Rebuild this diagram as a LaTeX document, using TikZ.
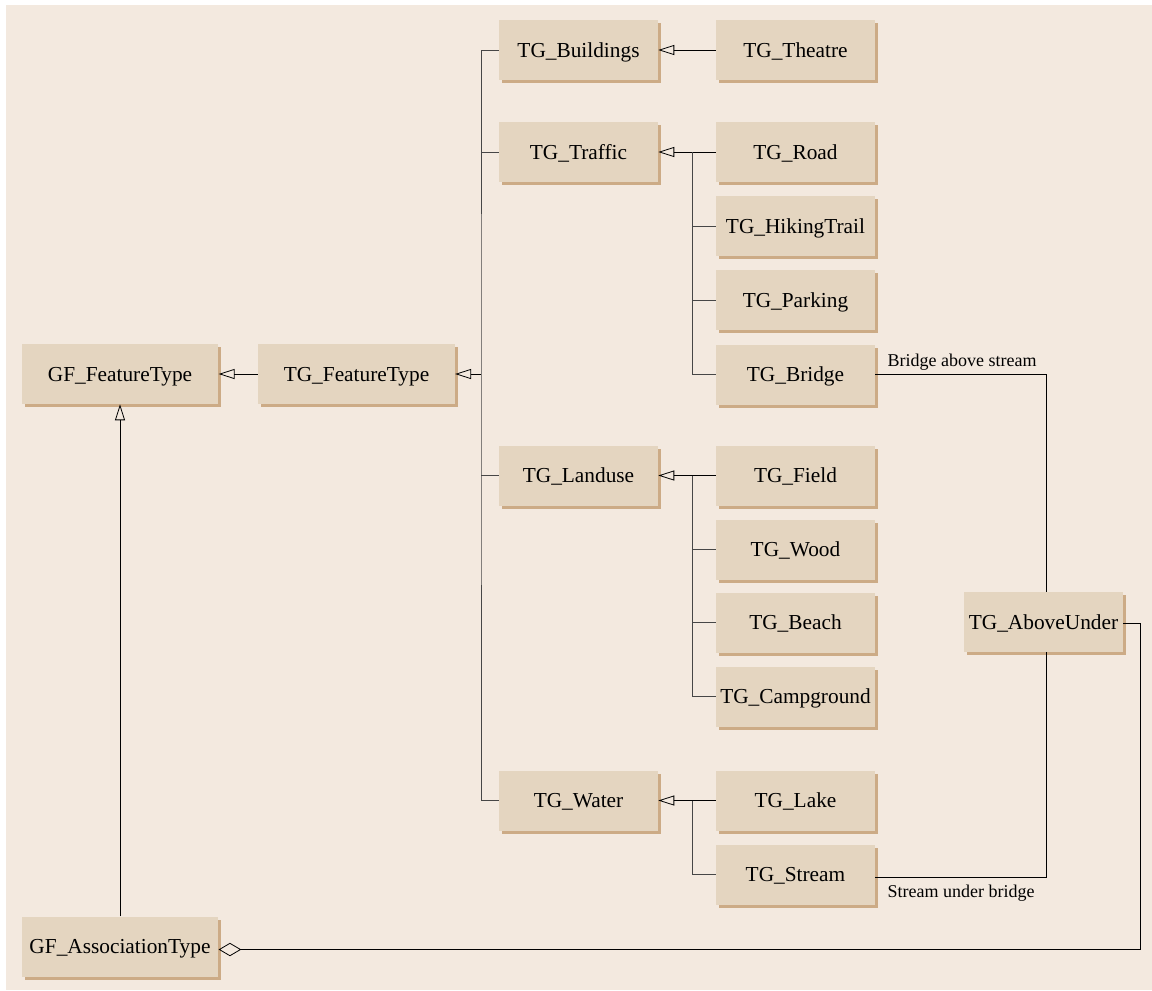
\documentclass[tikz,border=0pt]{standalone}
\usepackage{fontspec}
\setmainfont{Liberation Serif}
\usetikzlibrary{arrows.meta,shadows}

\definecolor{paper}{RGB}{243,233,223}
\definecolor{boxfill}{RGB}{228,213,192}
\definecolor{boxshade}{RGB}{204,171,134}
\definecolor{wire}{RGB}{70,70,70}

\tikzset{
  cls/.style={draw=none, fill=boxfill, inner sep=2pt,
    minimum width=119.25pt, minimum height=45pt,
    text height=12pt, text depth=0.8pt,
    font=\fontsize{16}{19}\selectfont,
    drop shadow={shadow xshift=2.25pt, shadow yshift=-2.25pt, opacity=1, fill=boxshade}},
  wide/.style={cls, minimum width=147.5pt},
  wire/.style={draw=wire, line width=0.75pt},
  gen/.style={draw=black, line width=0.6pt,
    -{Triangle[open, length=12pt, width=7.5pt, line width=0.6pt]}},
  agg/.style={draw=black, line width=0.6pt,
    -{Diamond[open, length=17pt, width=10pt, line width=0.6pt]}},
  role/.style={font=\fontsize{13.5}{16}\selectfont, inner sep=1pt}
}

\begin{document}
\begin{tikzpicture}[x=0.75pt, y=-0.75pt]
  % page and paper background
  \fill[white] (0,0) rectangle (1152,990);
  \fill[paper] (6,5) rectangle (1152,990);
  \useasboundingbox (0,0) rectangle (1152,990);

  % root classes
  \node[wide] (GFF) at (120,374) {GF\_FeatureType};
  \node[wide] (TGF) at (356.5,374) {TG\_FeatureType};
  \node[wide] (GFA) at (120,946.5) {GF\_AssociationType};

  % feature categories
  \node[cls] (Bld) at (578.5,50)  {TG\_Buildings};
  \node[cls] (Trf) at (578.5,152) {TG\_Traffic};
  \node[cls] (Lnd) at (578.5,475.5) {TG\_Landuse};
  \node[cls] (Wat) at (578.5,800.5) {TG\_Water};

  % concrete feature types
  \node[cls] (Thea)   at (795.5,50)    {TG\_Theatre};
  \node[cls] (Road)   at (795.5,152)   {TG\_Road};
  \node[cls] (Hike)   at (795.5,226)   {TG\_HikingTrail};
  \node[cls] (Park)   at (795.5,300)   {TG\_Parking};
  \node[cls] (Brdg)   at (795.5,374.5) {TG\_Bridge};
  \node[cls] (Field)  at (795.5,475.5) {TG\_Field};
  \node[cls] (Wood)   at (795.5,549.5) {TG\_Wood};
  \node[cls] (Beach)  at (795.5,622.5) {TG\_Beach};
  \node[cls] (Camp)   at (795.5,696.5) {TG\_Campground};
  \node[cls] (Lake)   at (795.5,800.5) {TG\_Lake};
  \node[cls] (Stream) at (795.5,874.5) {TG\_Stream};

  % association class
  \node[cls] (AU) at (1043.5,622) {TG\_AboveUnder};

  % junction points of the generalisation trees
  \coordinate (j0) at (481,374);
  \coordinate (j1) at (692,152);
  \coordinate (j2) at (692,475.5);
  \coordinate (j3) at (692,800.5);
  \coordinate (k)  at (1140,949.5);

  % TG_FeatureType specialisations
  \draw[wire] (Bld.west) -| (j0) |- (Wat.west);
  \draw[wire] (Trf.west) -- (Trf.west -| j0);
  \draw[wire] (Lnd.west) -- (Lnd.west -| j0);
  \draw[gen] (j0) -- (TGF.east);
  \draw[gen] (TGF.west) -- (GFF.east);
  \draw[gen] (GFA.north) -- (GFF.south);

  % buildings
  \draw[gen] (Thea.west) -- (Bld.east);

  % traffic
  \draw[gen] (Road.west) -- (Trf.east);
  \draw[wire] (j1) |- (Brdg.west);
  \draw[wire] (Hike.west) -- (Hike.west -| j1);
  \draw[wire] (Park.west) -- (Park.west -| j1);

  % landuse
  \draw[gen] (Field.west) -- (Lnd.east);
  \draw[wire] (j2) |- (Camp.west);
  \draw[wire] (Wood.west) -- (Wood.west -| j2);
  \draw[wire] (Beach.west) -- (Beach.west -| j2);

  % water
  \draw[gen] (Lake.west) -- (Wat.east);
  \draw[wire] (j3) |- (Stream.west);

  % bridge / stream association
  \draw[draw=black, line width=0.6pt] (Brdg.east) -| ([xshift=1.9pt]AU.north)
    node[pos=0, role, anchor=south west, xshift=8pt, yshift=2pt] {Bridge above stream};
  \draw[draw=black, line width=0.6pt] ([yshift=-2.25pt]Stream.east) -| ([xshift=1.9pt]AU.south)
    node[pos=0, role, anchor=north west, xshift=8pt, yshift=-4pt] {Stream under bridge};

  % aggregation into GF_AssociationType
  \draw[agg] ([yshift=-0.75pt]AU.east) -| (k) -- (GFA.east |- k);
\end{tikzpicture}
\end{document}
